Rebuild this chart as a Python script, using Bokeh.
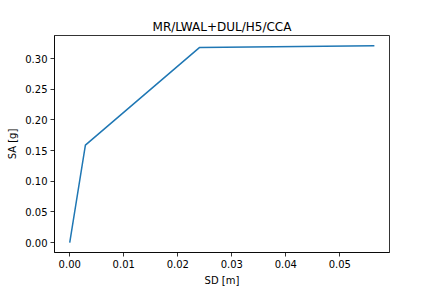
from bokeh.plotting import figure
from bokeh.models import FixedTicker, PrintfTickFormatter, Range1d, Title
from bokeh.embed import file_html
from bokeh.resources import INLINE

# Data
sd = [0.0, 0.0029, 0.0240, 0.0564]
sa = [0.0, 0.159, 0.318, 0.321]
x_ticks = [0.00, 0.01, 0.02, 0.03, 0.04, 0.05]
y_ticks = [0.00, 0.05, 0.10, 0.15, 0.20, 0.25, 0.30]
title_text = "MR/LWAL+DUL/H5/CCA"

FONT = "DejaVu Sans"

p = figure(width=432, height=288, output_backend="svg", toolbar_location=None,
           min_border_left=54, min_border_right=43, min_border_top=35, min_border_bottom=36,
           x_range=Range1d(-0.00282, 0.0592), y_range=Range1d(-0.0161, 0.3377))
p.title = None
t = Title(text=title_text, align="center", text_font=FONT, text_font_size="12px",
          text_font_style="normal", text_color="black", standoff=4)
p.add_layout(t, "above")

p.line(sd, sa, line_color="#1f77b4", line_width=1.5)

p.xgrid.visible = False
p.ygrid.visible = False
p.outline_line_color = "black"
p.outline_line_width = 0.8
p.background_fill_color = "white"
p.border_fill_color = "white"

p.xaxis.ticker = FixedTicker(ticks=x_ticks)
p.yaxis.ticker = FixedTicker(ticks=y_ticks)
p.xaxis.formatter = PrintfTickFormatter(format="%.2f")
p.yaxis.formatter = PrintfTickFormatter(format="%.2f")
p.xaxis.axis_label = "SD [m]"
p.yaxis.axis_label = "SA [g]"

for ax in (p.xaxis[0], p.yaxis[0]):
    ax.axis_line_color = "black"
    ax.axis_line_width = 0.8
    ax.major_tick_line_color = "black"
    ax.major_tick_line_width = 0.8
    ax.major_tick_out = 4
    ax.major_tick_in = 0
    ax.minor_tick_line_color = None
    ax.major_label_text_font = FONT
    ax.major_label_text_font_size = "10px"
    ax.major_label_text_color = "black"
    ax.axis_label_text_font = FONT
    ax.axis_label_text_font_size = "10px"
    ax.axis_label_text_font_style = "normal"
    ax.axis_label_text_color = "black"
    ax.major_label_standoff = 3
    ax.axis_label_standoff = 4

open("out.html", "w").write(file_html(p, INLINE))
